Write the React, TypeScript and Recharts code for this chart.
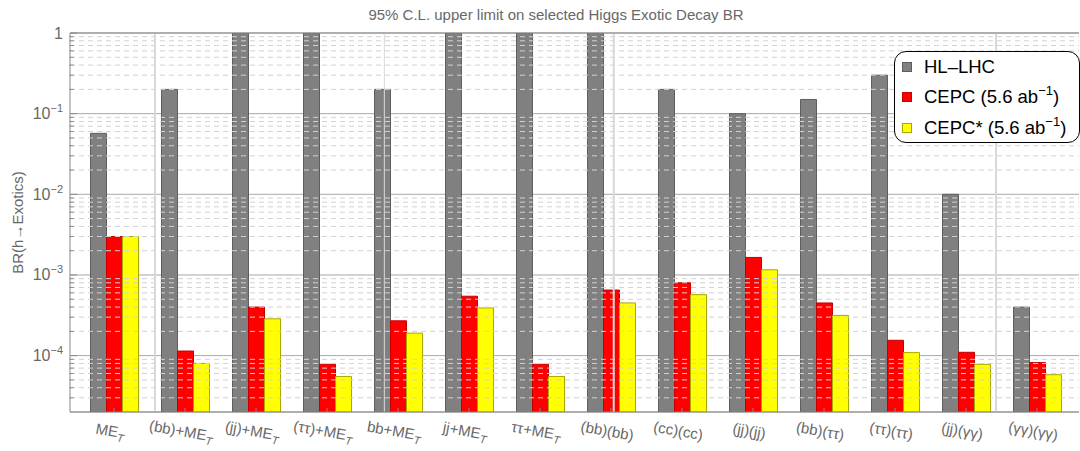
import React from 'react';
import { BarChart, Bar, XAxis, YAxis, CartesianGrid, ReferenceLine, Legend } from 'recharts';

const categories = [
  'ME_T', '(bb)+ME_T', '(jj)+ME_T', '(ττ)+ME_T', 'bb+ME_T', 'jj+ME_T', 'ττ+ME_T',
  '(bb)(bb)', '(cc)(cc)', '(jj)(jj)', '(bb)(ττ)', '(ττ)(ττ)', '(jj)(γγ)', '(γγ)(γγ)',
];
const hlLhc = [0.057, 0.2, 1, 1, 0.2, 1, 1, 1, 0.2, 0.1, 0.15, 0.3, 0.01, 0.0004];
const cepc = [0.003, 1.14e-4, 4.0e-4, 7.8e-5, 2.7e-4, 5.45e-4, 7.8e-5, 6.5e-4, 8.0e-4, 1.65e-3, 4.5e-4, 1.55e-4, 1.1e-4, 8.2e-5];
const cepcStar = [0.003, 8.0e-5, 2.86e-4, 5.5e-5, 1.9e-4, 3.9e-4, 5.5e-5, 4.5e-4, 5.7e-4, 1.16e-3, 3.15e-4, 1.09e-4, 7.8e-5, 5.8e-5];
const seriesNames = ['HL–LHC', 'CEPC (5.6 ab^−1)', 'CEPC* (5.6 ab^−1)'];
const yTicks = [1e-4, 1e-3, 1e-2, 1e-1, 1];
const yDomain = [2e-5, 1];
const groupBreaks = [1, 4, 7, 12];
const minorMultipliers = [2, 3, 4, 5, 6, 7, 8, 9];
const minorExponents = [-5, -4, -3, -2, -1];

const minorTicks: number[] = [];
minorExponents.forEach((e) => minorMultipliers.forEach((m) => {
  const v = m * Math.pow(10, e);
  if (v > yDomain[0] * 1.0001 && v < 1) minorTicks.push(v);
}));

const data = categories.map((c, i) => ({ name: c, hl: hlLhc[i], cepc: cepc[i], cepcStar: cepcStar[i] }));

const fills = ['#808080', '#ff0000', '#ffff00'];
const strokes = ['#5e5e5e', '#c40000', '#a8a800'];
const FONT = '"Liberation Sans", Arial, sans-serif';
const TXT = '#686868';
const PAD_L = 8.5;
const PAD_R = 6.5;
const BAND = 71;
const CHART_TOP = 33;
const CHART_H = 451;
const XAXIS_H = 39;

const XTick = (props: any) => {
  const { x, y, payload } = props;
  const label: string = payload.value;
  const hasSub = label.endsWith('_T');
  const main = hasSub ? label.slice(0, -2) : label;
  return (
    <g transform={`translate(${x - 4},${y}) rotate(10)`}>
      <text x={0} y={0} dy={4} textAnchor="middle" fill={TXT} fontSize={15} fontFamily={FONT}>
        {main}
        {hasSub && <tspan dy={4} fontSize={11} fontStyle="italic">T</tspan>}
      </text>
    </g>
  );
};

const YTick = (props: any) => {
  const { x, y, payload } = props;
  const v: number = payload.value;
  const exp = Math.round(Math.log10(v));
  return (
    <text x={x} y={y} dy={5.5} textAnchor="end" fill={TXT} fontSize={16} fontFamily={FONT}>
      {exp === 0 ? '1' : (
        <>
          10<tspan dy={-7} fontSize={11}>{'−' + Math.abs(exp)}</tspan>
        </>
      )}
    </text>
  );
};

const YLabel = () => {
  const cx = 23;
  const cy = CHART_TOP + (CHART_H - CHART_TOP - XAXIS_H) / 2;
  return (
    <text x={cx} y={cy} transform={`rotate(-90,${cx},${cy})`} textAnchor="middle" fill={TXT}
      fontSize={15} fontFamily={FONT}>BR(h→Exotics)</text>
  );
};

const renderName = (name: string) => {
  const idx = name.indexOf('^');
  if (idx < 0) return name;
  const rest = name.slice(idx + 1);
  const close = rest.indexOf(')');
  return (
    <>
      {name.slice(0, idx)}
      <sup style={{ fontSize: 13, verticalAlign: 'top', lineHeight: '14px', position: 'relative', top: -3 }}>{rest.slice(0, close)}</sup>
      {rest.slice(close)}
    </>
  );
};

const LegendBox = () => (
  <div style={{
    width: 186, height: 92, boxSizing: 'border-box', border: '1px solid #000', borderRadius: 12,
    background: '#fff', fontFamily: FONT, fontSize: 18.5, color: '#000',
  }}>
    {seriesNames.map((n, i) => (
      <div key={n} style={{ height: 30.3, display: 'flex', alignItems: 'center' }}>
        <span style={{
          display: 'inline-block', width: 10, height: 10, boxSizing: 'border-box', marginLeft: 7, marginRight: 12,
          background: fills[i], border: `1px solid ${strokes[i]}`,
        }} />
        <span style={{ whiteSpace: 'nowrap', lineHeight: '20px' }}>{renderName(n)}</span>
      </div>
    ))}
  </div>
);

const segX0 = -PAD_L / BAND;

export default function App() {
  return (
    <div style={{ position: 'relative', width: 1080, height: 451, background: '#fff' }}>
      <style>{'body{margin:0}'}</style>
      <div style={{
        position: 'absolute', top: 6, left: 556, transform: 'translateX(-50%)', whiteSpace: 'nowrap',
        fontFamily: FONT, fontSize: 15, color: TXT, zIndex: 2,
      }}>95% C.L. upper limit on selected Higgs Exotic Decay BR</div>
      <BarChart width={1080} height={CHART_H} data={data} margin={{ top: CHART_TOP, right: 1, bottom: 0, left: 0 }} barGap={0}>
        <CartesianGrid vertical={false} stroke="#a8a8a8" />
        {minorTicks.map((v) => (
          <ReferenceLine key={'m' + v} y={v} stroke="#d2d2d2" strokeDasharray="5 4" />
        ))}
        {groupBreaks.map((b, i) => (
          <ReferenceLine key={'g' + b} xAxisId="n" x={b} stroke="#d8d8d8" strokeWidth={i === 1 ? 1 : 2} />
        ))}
        {minorTicks.map((v) => (
          <ReferenceLine key={'t' + v} xAxisId="n" ifOverflow="visible"
            segment={[{ x: segX0, y: v }, { x: segX0 + 4 / BAND, y: v }]} stroke="#8a8a8a" />
        ))}
        <ReferenceLine y={1} stroke="#8a8a8a" />
        <XAxis dataKey="name" interval={0} height={XAXIS_H} tick={<XTick />} tickSize={-4} tickMargin={24}
          stroke="#8a8a8a" padding={{ left: PAD_L, right: PAD_R }} />
        <XAxis xAxisId="n" type="number" domain={[0, 14]} hide padding={{ left: PAD_L, right: PAD_R }} />
        <YAxis type="number" scale="log" domain={yDomain} allowDataOverflow ticks={yTicks} width={70}
          tick={<YTick />} tickSize={-7} tickMargin={14} stroke="#8a8a8a"
          label={<YLabel />} />
        <Legend content={<LegendBox />} layout="horizontal" align="center" verticalAlign="middle"
          wrapperStyle={{ position: 'absolute', left: 894, top: 51, right: 'auto', bottom: 'auto', width: 186, height: 92 }} />
        <Bar dataKey="hl" name={seriesNames[0]} fill={fills[0]} stroke={strokes[0]} barSize={16} isAnimationActive={false} />
        <Bar dataKey="cepc" name={seriesNames[1]} fill={fills[1]} stroke={strokes[1]} barSize={16} isAnimationActive={false} />
        <Bar dataKey="cepcStar" name={seriesNames[2]} fill={fills[2]} stroke={strokes[2]} barSize={16} isAnimationActive={false} />
      </BarChart>
    </div>
  );
}
